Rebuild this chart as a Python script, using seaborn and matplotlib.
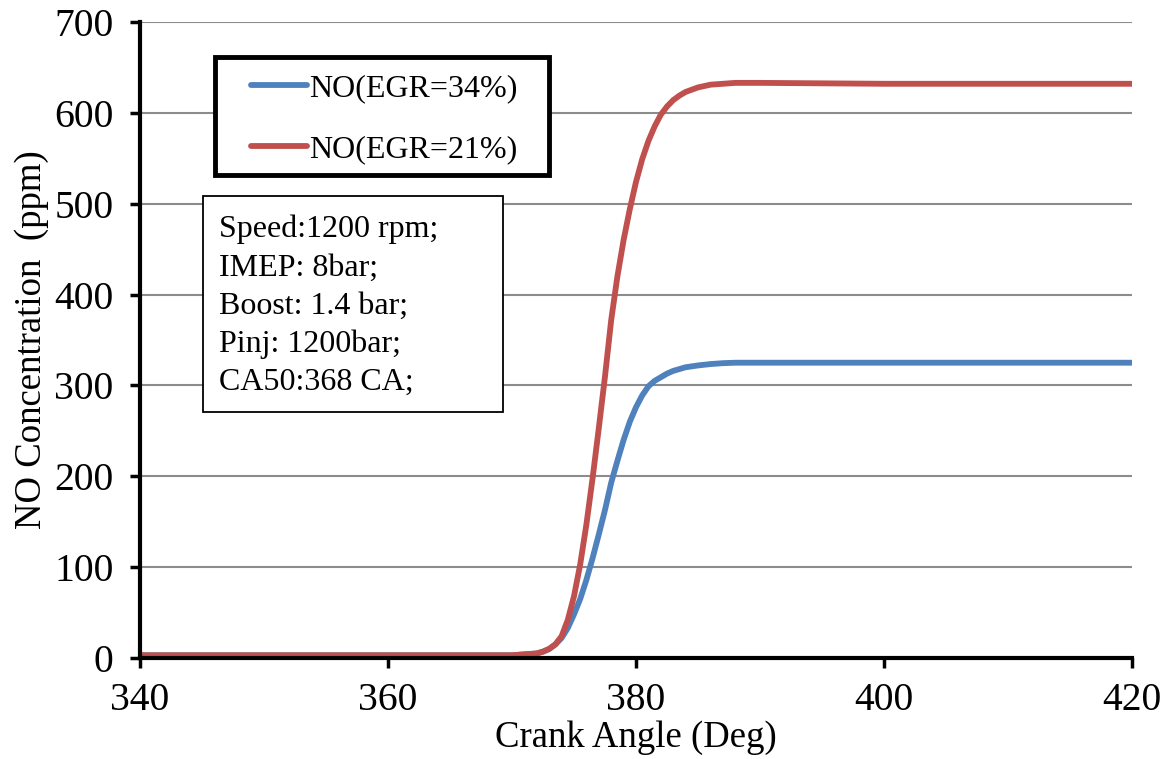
import numpy as np
import pandas as pd
import matplotlib
matplotlib.use("Agg")
import matplotlib.pyplot as plt
from matplotlib.patches import Rectangle
import seaborn as sns

# Data
crank_angle = [340, 350, 360, 370, 372, 372.5, 373, 373.5, 374, 374.5, 375, 375.5,
               376, 376.5, 377, 377.5, 378, 378.5, 379, 379.5, 380, 380.5, 381,
               381.5, 382, 382.5, 383, 383.5, 384, 385, 386, 387, 388, 390, 400,
               410, 420]
no_egr34 = [3, 3, 3, 3, 5, 7, 10, 15, 22, 33, 48, 65,
            86, 110, 136, 163, 193, 217, 240, 260, 276, 289, 299,
            305, 309, 313, 316, 318, 320, 322, 323.5, 324.5, 325, 325, 325,
            325, 325]
no_egr21 = [3, 3, 3, 3, 5, 7, 10, 15, 24, 42, 68, 103,
            147, 198, 253, 310, 372, 420, 460, 494, 524, 549, 569,
            585, 598, 607, 614, 619, 623, 628, 631, 632, 633, 633, 632,
            632, 632]
series_names = ["NO(EGR=34%)", "NO(EGR=21%)"]
series_colors = ["#4F81BD", "#C0504D"]
info_lines = ["Speed:1200 rpm;", "IMEP: 8bar;", "Boost: 1.4 bar;", "Pinj: 1200bar;", "CA50:368 CA;"]

df = pd.DataFrame({
    "Crank Angle": crank_angle * 2,
    "NO": no_egr34 + no_egr21,
    "Case": [series_names[0]] * len(crank_angle) + [series_names[1]] * len(crank_angle),
})

sns.set_style("white")
plt.rcParams["font.family"] = ["Liberation Serif", "DejaVu Serif"]
plt.rcParams["text.color"] = "black"
plt.rcParams["axes.labelcolor"] = "black"
plt.rcParams["xtick.color"] = "black"
plt.rcParams["ytick.color"] = "black"

W, H = 1168, 759
fig = plt.figure(figsize=(W / 100, H / 100), dpi=100)
ax = fig.add_axes([140 / W, 1 - 658 / H, (1132 - 140) / W, (658 - 22) / H])

sns.lineplot(data=df, x="Crank Angle", y="NO", hue="Case", hue_order=series_names,
             palette=series_colors, linewidth=4.2, ax=ax, legend=True, zorder=3)

ax.set_xlim(340, 420)
ax.set_ylim(0, 700)
ax.set_xticks(np.arange(340, 421, 20))
ax.set_yticks(np.arange(0, 701, 100))
ax.yaxis.grid(True, color="#8c8c8c", linewidth=1.5)
ax.xaxis.grid(False)
ax.set_axisbelow(True)

for s in ["top", "right"]:
    ax.spines[s].set_visible(False)
for s in ["left", "bottom"]:
    ax.spines[s].set_color("black")
    ax.spines[s].set_linewidth(3)
    ax.spines[s].set_zorder(4)

ax.tick_params(axis="both", direction="out", length=7, width=2.5, color="black",
               labelsize=28.5, bottom=True, left=True)
ax.tick_params(axis="x", pad=10)
ax.tick_params(axis="y", pad=12)
ax.set_xlabel("Crank Angle (Deg)", fontsize=26.5, labelpad=1)
ax.set_ylabel("NO Concentration  (ppm)", fontsize=26.5, labelpad=4)

# legend with a thick square frame
ax.add_patch(Rectangle((215 / W, 1 - 175 / H), (549 - 215) / W, (175 - 57) / H,
                       transform=fig.transFigure, facecolor="white", clip_on=False,
                       edgecolor="black", linewidth=3.5, zorder=5))
handles, labels = ax.get_legend_handles_labels()
leg = ax.legend(handles, labels, loc="center",
                bbox_to_anchor=((215 + 549) / 2 / W + 0.002, 1 - (57 + 175) / 2 / H - 0.004),
                bbox_transform=fig.transFigure, frameon=False, fontsize=23,
                handlelength=1.75, handletextpad=0.05, labelspacing=1.0)
leg.set_zorder(6)
for line in leg.get_lines():
    line.set_linewidth(4.2)

# operating conditions box
ax.add_patch(Rectangle((203 / W, 1 - 412 / H), (503 - 203) / W, (412 - 196) / H,
                       transform=fig.transFigure, facecolor="white", clip_on=False,
                       edgecolor="black", linewidth=1.3, zorder=5))
ax.text(219 / W, 1 - 215 / H, "\n".join(info_lines), fontsize=23, va="top", ha="left",
        linespacing=1.41, zorder=6, transform=fig.transFigure)

fig.savefig("out.png", dpi=100)
